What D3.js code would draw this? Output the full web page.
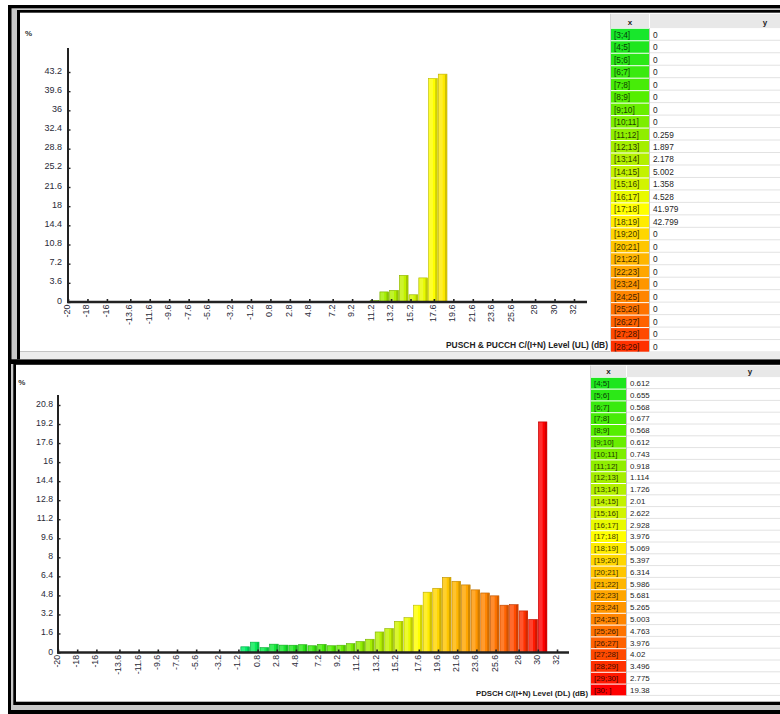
<!DOCTYPE html>
<html>
<head>
<meta charset="utf-8">
<script src="https://cdn.jsdelivr.net/npm/d3@7"></script>
<style>
  html, body { margin: 0; padding: 0; background: #fff; }
  svg { display: block; }
</style>
</head>
<body>
<svg id="view" width="780" height="714"></svg>
<script>
// ---- shared axis ticks (dB) ----
const xTicks = [-20, -18, -16, -13.6, -11.6, -9.6, -7.6, -5.6, -3.2, -1.2, 0.8, 2.8, 4.8,
                7.2, 9.2, 11.2, 13.2, 15.2, 17.6, 19.6, 21.6, 23.6, 25.6, 28, 30, 32];

// ---- UL: PUSCH & PUCCH C/(I+N) histogram ----
const ulYTicks = [0, 3.6, 7.2, 10.8, 14.4, 18, 21.6, 25.2, 28.8, 32.4, 36, 39.6, 43.2];
const ulBins = [3, 4, 5, 6, 7, 8, 9, 10, 11, 12, 13, 14, 15, 16, 17, 18, 19, 20, 21, 22, 23, 24, 25, 26, 27, 28];
const ulBinLabels = ["[3;4]", "[4;5]", "[5;6]", "[6;7]", "[7;8]", "[8;9]", "[9;10]", "[10;11]", "[11;12]",
                     "[12;13]", "[13;14]", "[14;15]", "[15;16]", "[16;17]", "[17;18]", "[18;19]", "[19;20]",
                     "[20;21]", "[21;22]", "[22;23]", "[23;24]", "[24;25]", "[25;26]", "[26;27]", "[27;28]", "[28;29]"];
const ulValues = [0, 0, 0, 0, 0, 0, 0, 0, 0.259, 1.897, 2.178, 5.002, 1.358, 4.528, 41.979, 42.799,
                  0, 0, 0, 0, 0, 0, 0, 0, 0, 0];

// ---- DL: PDSCH C/(I+N) histogram ----
const dlYTicks = [0, 1.6, 3.2, 4.8, 6.4, 8, 9.6, 11.2, 12.8, 14.4, 16, 17.6, 19.2, 20.8];
const dlBins = [-1, 0, 1, 2, 3, 4, 5, 6, 7, 8, 9, 10, 11, 12, 13, 14, 15, 16, 17, 18, 19, 20, 21, 22, 23, 24, 25, 26, 27, 28, 29, 30];
const dlBinLabels = ["[-1;0]", "[0;1]", "[1;2]", "[2;3]", "[3;4]", "[4;5]", "[5;6]", "[6;7]", "[7;8]", "[8;9]",
                     "[9;10]", "[10;11]", "[11;12]", "[12;13]", "[13;14]", "[14;15]", "[15;16]", "[16;17]",
                     "[17;18]", "[18;19]", "[19;20]", "[20;21]", "[21;22]", "[22;23]", "[23;24]", "[24;25]",
                     "[25;26]", "[26;27]", "[27;28]", "[28;29]", "[29;30]", "[30;  ]"];
const dlValues = [0.48, 0.87, 0.41, 0.70, 0.62, 0.612, 0.655, 0.568, 0.677, 0.568, 0.612, 0.743, 0.918, 1.114,
                  1.726, 2.01, 2.622, 2.928, 3.976, 5.069, 5.397, 6.314, 5.986, 5.681, 5.265, 5.003, 4.763,
                  3.976, 4.02, 3.496, 2.775, 19.38];

const FONT = "'Liberation Sans', Arial, Helvetica, sans-serif";
const svg = d3.select("#view");

// green -> yellow -> red ramp by bin lower edge
const binColor = d3.scaleLinear()
  .domain([-1, 4, 8, 12, 15, 17, 19, 23, 26, 30])
  .range(["#00ec64", "#1ee61e", "#55ee00", "#a4ee00", "#d2f400", "#ffff00", "#ffd600", "#ff9600", "#ff6200", "#ff0000"])
  .interpolate(d3.interpolateRgb)
  .clamp(true);

// ---- window frames ----
function box(x, y, w, h, fill) {
  svg.append("rect").attr("x", x).attr("y", y).attr("width", w).attr("height", h).attr("fill", fill);
}
box(0, 0, 780, 714, "#fff");
box(8, 5, 772, 709, "#000");
// upper window
box(11.5, 8.3, 768.5, 351, "#c8c8c8");
box(17, 10, 763, 349.3, "#000");
box(20, 12.7, 760, 339, "#fff");
// lower window
box(11, 364, 769, 346, "#c8c8c8");
box(13.3, 364, 766.7, 341, "#000");
box(16, 364.8, 764, 336.9, "#fff");

// ---- histogram panel ----
function drawHistogram(cfg) {
  const g = svg.append("g");
  const x = d3.scaleLinear().domain([-20, 32]).range(cfg.xRange);
  const y = d3.scaleLinear().domain([0, cfg.yMax]).range(cfg.yRange);

  const data = cfg.bins.map((b, i) => ({ lo: b, hi: b + 1, v: cfg.values[i] })).filter(d => d.v > 0);
  const bars = g.append("g").selectAll("g").data(data).join("g");
  bars.append("rect")
    .attr("x", d => x(d.lo) + 0.5)
    .attr("y", d => y(d.v))
    .attr("width", d => x(d.hi) - x(d.lo) - 1)
    .attr("height", d => y(0) - y(d.v))
    .attr("fill", d => binColor(d.lo))
    .attr("stroke", d => d3.color(binColor(d.lo)).darker(0.9))
    .attr("stroke-width", 0.6);
  bars.append("rect")
    .attr("x", d => x(d.lo) + 1)
    .attr("y", d => y(d.v) + 0.5)
    .attr("width", d => (x(d.hi) - x(d.lo)) * 0.4)
    .attr("height", d => Math.max(0, y(0) - y(d.v) - 0.5))
    .attr("fill", "#fff").attr("opacity", 0.18);
  bars.append("rect")
    .attr("x", d => x(d.hi) - 2.6)
    .attr("y", d => y(d.v) + 0.3)
    .attr("width", 2)
    .attr("height", d => Math.max(0, y(0) - y(d.v) - 0.3))
    .attr("fill", d => d3.color(binColor(d.lo)).darker(0.55));

  // y axis ticks and labels
  const ya = g.append("g")
    .attr("transform", `translate(${x(-20)},0)`)
    .call(d3.axisLeft(y).tickValues(cfg.yTicks).tickFormat(String).tickSize(-2.5));
  ya.attr("font-family", FONT).attr("font-size", cfg.tickFont);
  ya.select(".domain").remove();
  ya.selectAll(".tick line").attr("stroke", "#222").attr("stroke-width", 1.4);
  ya.selectAll(".tick text")
    .attr("x", cfg.yLabelDx).attr("y", cfg.yLabelDy).attr("dy", 0)
    .attr("fill", "#2a2a38");

  // x axis ticks and rotated labels
  const xa = g.append("g")
    .attr("transform", `translate(0,${y(0)})`)
    .call(d3.axisBottom(x).tickValues(xTicks).tickFormat(String).tickSize(-3));
  xa.attr("font-family", FONT).attr("font-size", cfg.tickFont);
  xa.select(".domain").remove();
  xa.selectAll(".tick line").attr("stroke", "#222").attr("stroke-width", 1.6);
  xa.selectAll(".tick text")
    .attr("transform", "rotate(-90)")
    .attr("text-anchor", "end")
    .attr("x", -2.5).attr("y", 1.5).attr("dy", 0)
    .attr("fill", "#2a2a38");

  // axis lines
  g.append("line")
    .attr("x1", x(-20)).attr("x2", x(-20))
    .attr("y1", cfg.yAxisTop).attr("y2", y(0) + 1)
    .attr("stroke", "#222").attr("stroke-width", 2);
  g.append("line")
    .attr("x1", x(-20) - 1).attr("x2", cfg.xAxisEnd)
    .attr("y1", y(0)).attr("y2", y(0))
    .attr("stroke", "#222").attr("stroke-width", 2.4);

  // unit label and axis title
  g.append("text")
    .attr("x", cfg.pctPos[0]).attr("y", cfg.pctPos[1])
    .attr("font-family", FONT).attr("font-size", 8).attr("font-weight", "bold")
    .attr("fill", "#333").text("%");
  g.append("text")
    .attr("x", cfg.titleX).attr("y", cfg.titleY)
    .attr("font-family", FONT).attr("font-size", cfg.titleFont).attr("font-weight", "bold")
    .attr("fill", "#222")
    .attr("textLength", cfg.titleW).attr("lengthAdjust", "spacingAndGlyphs")
    .text(cfg.title);
}

// ---- value table ----
function drawTable(cfg) {
  const right = 780;
  const g = svg.append("g").attr("font-family", FONT);
  g.append("rect")
    .attr("x", cfg.x0).attr("y", cfg.rowTop).attr("width", right - cfg.x0)
    .attr("height", (cfg.labels.length - cfg.first) * cfg.rowH).attr("fill", "#fff");
  g.append("rect")
    .attr("x", cfg.x0).attr("y", cfg.headTop).attr("width", right - cfg.x0).attr("height", cfg.headH)
    .attr("fill", "#e8e8e8");
  g.append("line")
    .attr("x1", cfg.x1 + 0.5).attr("x2", cfg.x1 + 0.5)
    .attr("y1", cfg.headTop).attr("y2", cfg.headTop + cfg.headH)
    .attr("stroke", "#fff");
  g.append("text")
    .attr("x", (cfg.x0 + cfg.x1) / 2).attr("y", cfg.headTop + cfg.headH - 3.5)
    .attr("text-anchor", "middle").attr("font-size", 8).attr("font-weight", "bold").attr("fill", "#222")
    .text("x");
  g.append("text")
    .attr("x", cfg.yHeadX).attr("y", cfg.headTop + cfg.headH - 3.5)
    .attr("text-anchor", "middle").attr("font-size", 8).attr("font-weight", "bold").attr("fill", "#222")
    .text("y");

  const rows = d3.range(cfg.first, cfg.labels.length);
  const rg = g.selectAll("g.row").data(rows).join("g")
    .attr("class", "row")
    .attr("transform", (d, j) => `translate(0,${cfg.rowTop + j * cfg.rowH})`);
  rg.append("rect")
    .attr("x", cfg.x0).attr("y", 0.5)
    .attr("width", cfg.x1 - cfg.x0).attr("height", cfg.rowH - 1)
    .attr("fill", i => binColor(cfg.bins[i]));
  rg.append("line")
    .attr("x1", cfg.x1).attr("x2", right)
    .attr("y1", cfg.rowH - 0.5).attr("y2", cfg.rowH - 0.5)
    .attr("stroke", "#e2e2e2");
  rg.append("text")
    .attr("x", cfg.x0 + 3).attr("y", cfg.rowH - 3)
    .attr("font-size", cfg.font)
    .attr("fill", i => d3.color(binColor(cfg.bins[i])).darker(3.8))
    .text(i => cfg.labels[i]);
  rg.append("text")
    .attr("x", cfg.x1 + 4).attr("y", cfg.rowH - 3)
    .attr("font-size", cfg.font).attr("fill", "#1e1e1e")
    .text(i => String(cfg.values[i]));

  g.append("line")
    .attr("x1", cfg.x0 - 0.5).attr("x2", cfg.x0 - 0.5)
    .attr("y1", cfg.headTop).attr("y2", cfg.rowTop + rows.length * cfg.rowH)
    .attr("stroke", "#d4d4d4");
  g.append("line")
    .attr("x1", cfg.x1 + 0.5).attr("x2", cfg.x1 + 0.5)
    .attr("y1", cfg.rowTop).attr("y2", cfg.rowTop + rows.length * cfg.rowH)
    .attr("stroke", "#c4c4c4");
}

// upper panel: UL
drawHistogram({
  bins: ulBins, values: ulValues, yTicks: ulYTicks, yMax: 43.2,
  xRange: [68, 574], yRange: [302, 72], yAxisTop: 48, xAxisEnd: 587,
  tickFont: 9, yLabelDx: -6, yLabelDy: 1,
  pctPos: [25, 36],
  title: "PUSCH & PUCCH C/(I+N) Level (UL) (dB)", titleX: 446, titleY: 348, titleW: 162, titleFont: 8.5
});
drawTable({
  bins: ulBins, labels: ulBinLabels, values: ulValues, first: 0,
  x0: 611, x1: 649, headTop: 13.8, headH: 14.3, rowTop: 28.3, rowH: 12.47, yHeadX: 765, font: 8.3
});
// status strip at the bottom of the upper window
box(20, 351.7, 760, 7.6, "#ececec");

// lower panel: DL
drawHistogram({
  bins: dlBins, values: dlValues, yTicks: dlYTicks, yMax: 20.8,
  xRange: [58, 557], yRange: [652.5, 405], yAxisTop: 395, xAxisEnd: 569,
  tickFont: 8.7, yLabelDx: -5, yLabelDy: 1.5,
  pctPos: [18.3, 385],
  title: "PDSCH C/(I+N) Level (DL) (dB)", titleX: 476, titleY: 696, titleW: 112, titleFont: 8
});
drawTable({
  bins: dlBins, labels: dlBinLabels, values: dlValues, first: 5,
  x0: 591, x1: 626, headTop: 365.5, headH: 11.6, rowTop: 377.3, rowH: 11.8, yHeadX: 750, font: 7.9
});
</script>
</body>
</html>
